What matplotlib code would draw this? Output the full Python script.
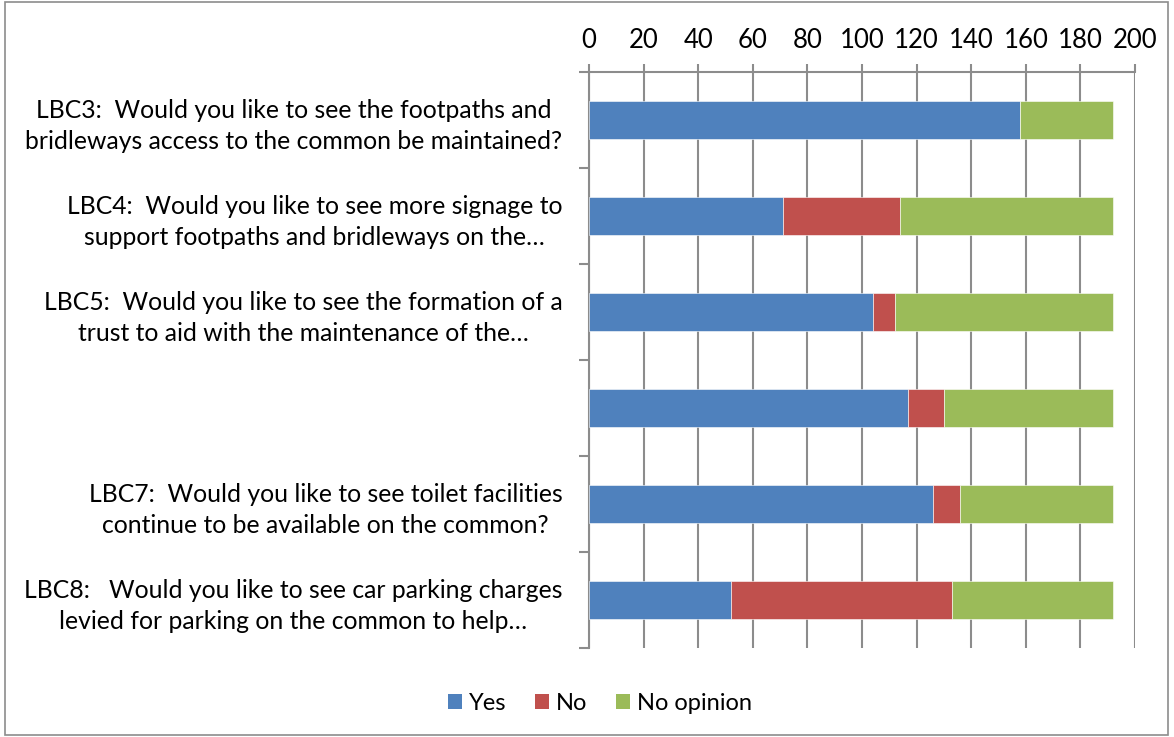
import numpy as np
import matplotlib.pyplot as plt
from matplotlib.patches import Patch, Rectangle

plt.rcParams['font.family'] = ['Lato', 'DejaVu Sans']

questions = [
    "LBC3:  Would you like to see the footpaths and\nbridleways access to the common be maintained?",
    "LBC4:  Would you like to see more signage to\nsupport footpaths and bridleways on the…",
    "LBC5:  Would you like to see the formation of a\ntrust to aid with the maintenance of the…",
    "",
    "LBC7:  Would you like to see toilet facilities\ncontinue to be available on the common?",
    "LBC8:   Would you like to see car parking charges\nlevied for parking on the common to help…",
]
yes = [158, 71, 104, 117, 126, 52]
no = [0, 43, 8, 13, 10, 81]
no_opinion = [34, 78, 80, 62, 56, 59]

series = ["Yes", "No", "No opinion"]
colors = ["#4F81BD", "#C0504D", "#9BBB59"]
grid_c = "#8C8C8C"

fig = plt.figure(figsize=(11.74, 7.37), dpi=100)
fig.patches.append(Rectangle((5 / 1174, 2 / 737), 1163 / 1174, 733 / 737,
                             transform=fig.transFigure, fill=False,
                             edgecolor="#8C8C8C", linewidth=1.2))
ax = fig.add_axes([589 / 1174, 1 - 648 / 737, 546 / 1174, 576 / 737])

y = np.arange(len(questions))
left = np.zeros(len(questions))
for vals, name, c in zip([yes, no, no_opinion], series, colors):
    ax.barh(y, vals, left=left, height=0.4, color=c, edgecolor="white",
            linewidth=0.4, label=name, zorder=3)
    left += np.array(vals)

ax.set_xlim(0, 200)
ax.set_ylim(len(questions) - 0.5, -0.5)
ax.set_xticks(np.arange(0, 201, 20))
ax.xaxis.tick_top()
ax.tick_params(axis="x", which="major", length=6, color=grid_c, width=1.5,
               labelsize=18.5, pad=8)
ax.xaxis.grid(True, color=grid_c, linewidth=1.5, zorder=0)

ax.set_yticks(y)
ax.set_yticklabels(questions, fontsize=17.8, multialignment="center",
                   linespacing=1.4)
ax.tick_params(axis="y", which="major", length=0, pad=19)
ax.set_yticks(np.arange(-0.5, len(questions), 1.0), minor=True)
ax.tick_params(axis="y", which="minor", length=7, color=grid_c, width=1.5)

for s in ["right", "bottom"]:
    ax.spines[s].set_visible(False)
for s in ["left", "top"]:
    ax.spines[s].set_color(grid_c)
    ax.spines[s].set_linewidth(1.5)

handles = [Patch(facecolor=c, label=n) for c, n in zip(colors, series)]
fig.legend(handles=handles, loc="center", bbox_to_anchor=(600 / 1174, 1 - 703 / 737),
           ncol=3, frameon=False, fontsize=17, handlelength=0.6,
           handleheight=0.6, handletextpad=0.3, columnspacing=1.2)

fig.savefig("out.png", dpi=100)
